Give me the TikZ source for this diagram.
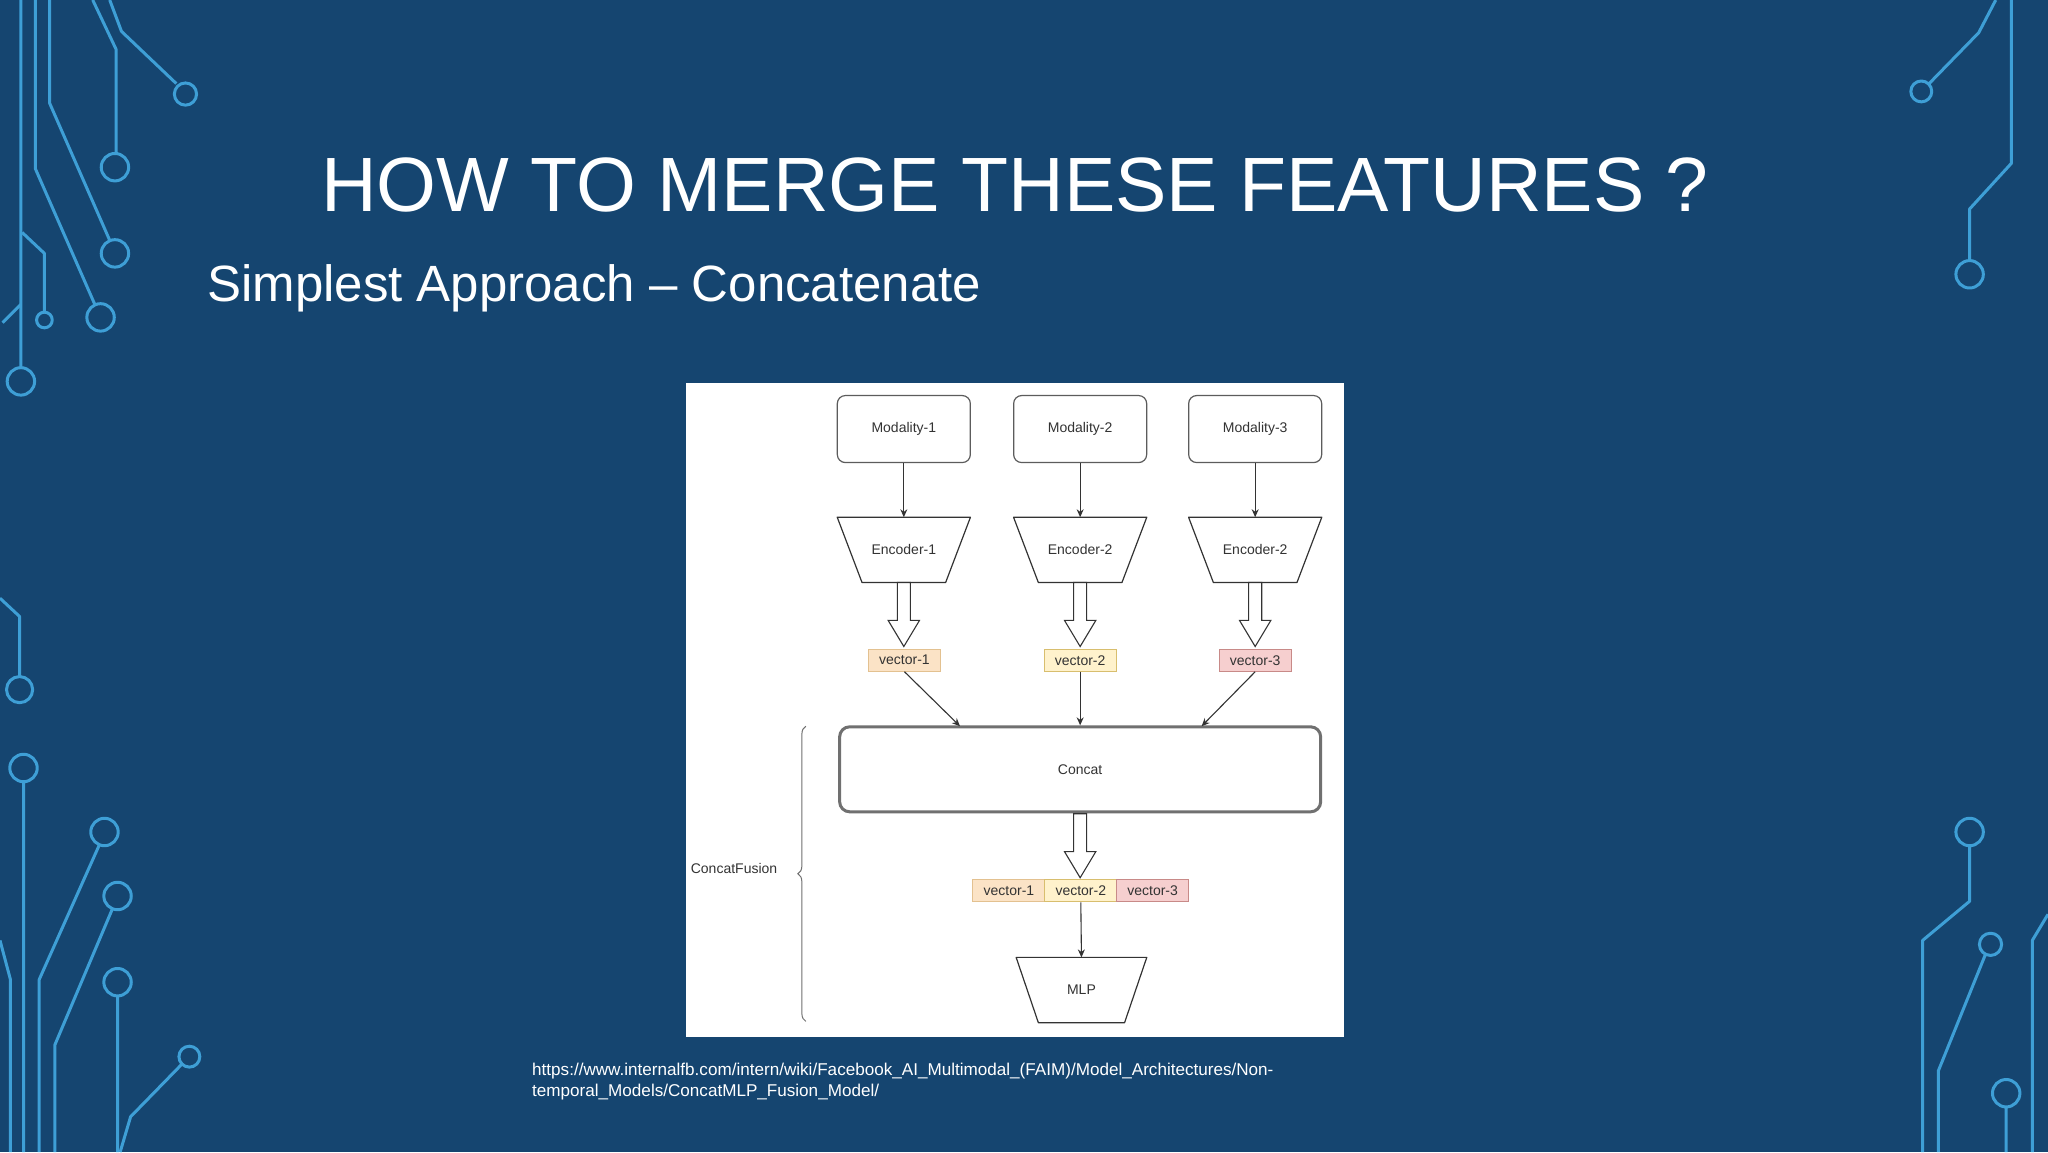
\documentclass[tikz,border=0pt]{standalone}
\usepackage{fontspec}
\setmainfont{Liberation Sans}
\usetikzlibrary{shapes.geometric,arrows.meta,decorations.pathreplacing}
\definecolor{bg}{HTML}{154570}
\definecolor{circ}{HTML}{3E9FD6}
\definecolor{ink}{HTML}{333333}
\definecolor{v1f}{HTML}{FBE3C6}\definecolor{v1d}{HTML}{E3C190}
\definecolor{v2f}{HTML}{FFF2CC}\definecolor{v2d}{HTML}{D8BE6E}
\definecolor{v3f}{HTML}{F6CFCF}\definecolor{v3d}{HTML}{C88A88}
\begin{document}
\begin{tikzpicture}[x=1pt,y=-1pt,
  tr/.style={line width=3pt,circ,line join=round},
  txt/.style={font=\fontsize{14}{16}\selectfont,text=ink},
  mod/.style={draw=ink!80,line width=1.2pt,rounded corners=8pt,minimum width=133pt,minimum height=67pt,txt,fill=white},
  trap/.style={draw=ink,line width=1.2pt,line join=round},
  vec/.style={line width=1pt,minimum width=72pt,minimum height=22pt,inner sep=0pt,txt},
  ar/.style={-{Stealth[length=8pt,width=7pt]},line width=1.1pt,ink},
  hol/.style={draw=ink,line width=1.1pt,fill=white}]
\useasboundingbox (0,0) rectangle (2048,1152);
\fill[bg] (0,0) rectangle (2048,1152);
\begin{scope}[x=1.3061pt,y=-1.3061pt]
% circuits
\draw[tr] (16,0)--(16,281) (16,292) circle (10.5);
\draw[tr] (27,0)--(27,129)--(73,234) (77,243) circle (10.5);
\draw[tr] (38,0)--(38,79)--(84,184) (88,194) circle (10.5);
\draw[tr] (71,0)--(89,38)--(89,117) (88,128) circle (10.5);
\draw[tr] (84,0)--(93,24)--(135,64) (142,72) circle (8.5);
\draw[tr] (17,178)--(34,194)--(34,238) (34,245) circle (6);
\draw[tr] (2,247)--(16,233);
\draw[tr] (0,458)--(15,472)--(15,518) (15,528) circle (10);
\draw[tr] (18,599)--(18,882) (18,588) circle (10.5);
\draw[tr] (76,647)--(30,750)--(30,882) (80,637) circle (10.5);
\draw[tr] (86,696)--(42,800)--(42,882) (90,686) circle (10.5);
\draw[tr] (90,763)--(90,882) (90,752) circle (10.5);
\draw[tr] (139,815)--(100,855)--(92,882) (145,809) circle (8);
\draw[tr] (0,720)--(8,750)--(8,882);
\draw[tr] (1477,64)--(1515,25)--(1528,0) (1471,70) circle (8);
\draw[tr] (1540,0)--(1540,125)--(1508,160)--(1508,199) (1508,210) circle (10.5);
\draw[tr] (1508,648)--(1508,690)--(1472,720)--(1472,882) (1508,637) circle (10.5);
\draw[tr] (1520,731)--(1484,820)--(1484,882) (1524,723) circle (8.5);
\draw[tr] (1536,848)--(1536,882) (1536,837) circle (10.5);
\draw[tr] (1568,700)--(1556,720)--(1556,882);
% diagram
\fill[white] (525,293) rectangle (1029,794);
\foreach \i/\x/\e in {1/692/1,2/827/2,3/961/2}{
  \node[mod] (m\i) at (\x,328.5) {Modality-\i};
  \draw[trap] (\x-51,396)--(\x+51,396)--(\x+32,446)--(\x-32,446)--cycle;
  \coordinate (e\i) at (\x,396);
  \node[txt] (et\i) at (\x,421) {Encoder-\e};
  \draw[ar] (m\i.south) -- (e\i);
  \draw[hol] (\x-5,446)--(\x+5,446)--(\x+5,475)--(\x+12,475)--(\x,495)--(\x-12,475)--(\x-5,475)--cycle;
}
\node[vec,fill=v1f,draw=v1d] (v1) at (692.5,505.5) {vector-1};
\node[vec,fill=v2f,draw=v2d] (v2) at (827,505.5) {vector-2};
\node[vec,fill=v3f,draw=v3d] (v3) at (961,505.5) {vector-3};
\node[draw=ink!70,line width=3pt,rounded corners=10pt,minimum width=481pt,minimum height=85pt,txt] (cc) at (827,589) {Concat};
\coordinate (c1) at (735,556);\coordinate (c3) at (920,556);
\draw[ar] (v1.south) -- (c1);
\draw[ar] (v2.south) -- (cc.north);
\draw[ar] (v3.south) -- (c3);
\draw[hol] (822,623)--(832,623)--(832,652)--(839,652)--(827,672)--(815,652)--(822,652)--cycle;
\node[vec,fill=v1f,draw=v1d] (w1) at (772.5,682) {vector-1};
\node[vec,fill=v2f,draw=v2d] (w2) at (827.5,682) {vector-2};
\node[vec,fill=v3f,draw=v3d] (w3) at (882.5,682) {vector-3};
\draw[trap] (778,733)--(878,733)--(861,783)--(795,783)--cycle;
\coordinate (mlp) at (828,733);
\node[txt] (mlpt) at (828,758) {MLP};
\draw[ar] (w2.south) -- (mlp);
\draw[decorate,decoration={brace,amplitude=8pt},ink!70,line width=1pt] (617,782) -- (617,556);
\node[txt] (cf) at (562,665) {ConcatFusion};
\end{scope}
% titles
\node[text=white,font=\fontsize{77}{80}\selectfont,anchor=base] (title) at (1015,211) {HOW TO MERGE THESE FEATURES ?};
\node[text=white,font=\fontsize{51}{56}\selectfont,anchor=base west,inner sep=0pt] (sub) at (207,301) {Simplest Approach – Concatenate};
\node[text=white,font=\fontsize{17.1}{21}\selectfont,anchor=north west,align=left,inner sep=0pt] (url) at (532,1063) {https://www.internalfb.com/intern/wiki/Facebook\_AI\_Multimodal\_(FAIM)/Model\_Architectures/Non-\\temporal\_Models/ConcatMLP\_Fusion\_Model/};
\end{tikzpicture}
\end{document}
